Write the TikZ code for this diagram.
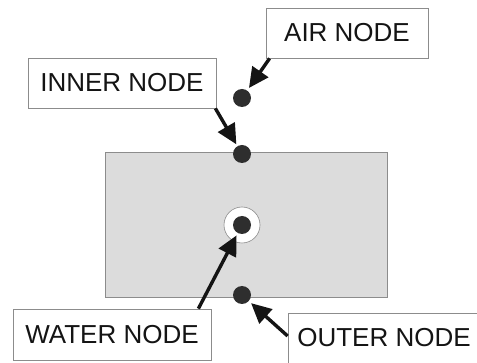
\documentclass[tikz,border=0pt]{standalone}
\usepackage{fontspec}
\setmainfont{Liberation Sans}
\usetikzlibrary{arrows.meta}
\definecolor{ink}{HTML}{141414}
\definecolor{dotc}{HTML}{2E2E2E}
\definecolor{slab}{HTML}{DCDCDC}
\definecolor{edge}{HTML}{8C8C8C}
\begin{document}
\begin{tikzpicture}[x=1pt,y=-1pt,
  labelbox/.style={draw=edge, line width=0.8pt, fill=white, inner sep=0pt,
    font=\fontsize{26}{30}\selectfont, text=ink},
  nodedot/.style={circle, fill=dotc, draw=none, minimum size=18pt, inner sep=0pt},
  pointer/.style={draw=ink, line width=3.4pt, -{Triangle[length=20pt,width=19pt]}}]
\useasboundingbox (0,0) rectangle (477,363);
% slab
\node[draw=edge, line width=0.8pt, fill=slab, minimum width=282pt, minimum height=145pt, inner sep=0pt] (slab) at (246,224.5) {};
% halo around water node
\node[circle, draw=edge, line width=0.6pt, fill=white, minimum size=36pt, inner sep=0pt] (halo) at (242,225) {};
% dots
\node[nodedot] (air) at (242,98) {};
\node[nodedot] (inner) at (242,154) {};
\node[nodedot] (water) at (242,225) {};
\node[nodedot] (outer) at (242,295) {};
% label boxes
\node[labelbox, minimum width=162pt, minimum height=50pt] (airbox) at (347,33) {AIR NODE};
\node[labelbox, minimum width=188pt, minimum height=50pt] (innerbox) at (122,83) {INNER NODE};
\node[labelbox, minimum width=198pt, minimum height=51pt] (waterbox) at (112,334.5) {WATER NODE};
\node[labelbox, minimum width=192pt, minimum height=50pt] (outerbox) at (384,338) {OUTER NODE};
% pointers
\draw[pointer, shorten >=3pt] ([xshift=4pt]airbox.south west) -- (air);
\draw[pointer, shorten >=2pt] ([xshift=-1pt]innerbox.south east) -- (inner);
\draw[pointer, shorten >=2.5pt] ([xshift=-13pt]waterbox.north east) -- (water);
\draw[pointer, shorten >=3pt] ([yshift=2pt]outerbox.west) -- (outer);
\end{tikzpicture}
\end{document}
